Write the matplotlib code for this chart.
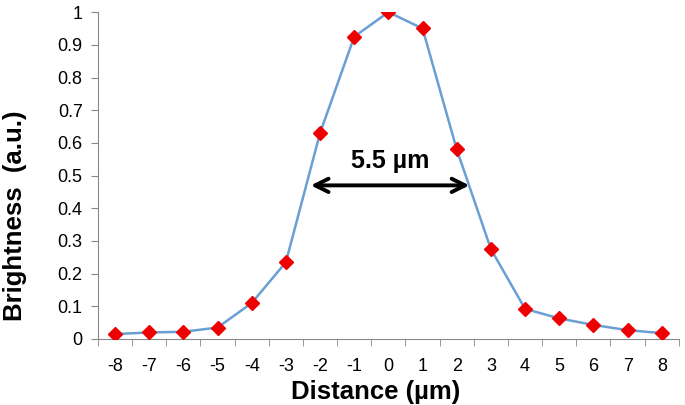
import numpy as np
from matplotlib import pyplot as plt

plt.rcParams['font.family'] = ['Liberation Sans', 'DejaVu Sans']
plt.rcParams['axes.unicode_minus'] = False

distance = [-8, -7, -6, -5, -4, -3, -2, -1, 0, 1, 2, 3, 4, 5, 6, 7, 8]
brightness = [0.015, 0.02, 0.022, 0.035, 0.11, 0.235, 0.63, 0.925, 1.0,
              0.95, 0.58, 0.275, 0.092, 0.063, 0.043, 0.027, 0.018]
y_ticks = [0, 0.1, 0.2, 0.3, 0.4, 0.5, 0.6, 0.7, 0.8, 0.9, 1]
fwhm_left, fwhm_right, fwhm_level = -2.35, 2.45, 0.47
fwhm_text = '5.5 µm'

fig = plt.figure(figsize=(6.85, 4.05), dpi=100)
ax = fig.add_axes([0.143, 0.163, 0.848, 0.807])

ax.plot(distance, brightness, color='#6a9fd4', lw=1.8, zorder=2)
ax.plot(distance, brightness, ls='none', marker='D', ms=7,
        color='#ee0000', mec='#ee0000', zorder=3)

# width arrow
ax.annotate('', xy=(fwhm_left, fwhm_level), xytext=(fwhm_right, fwhm_level),
            arrowprops=dict(arrowstyle='<->', lw=2.8, color='black',
                            mutation_scale=24))
ax.text((fwhm_left + fwhm_right) / 2, fwhm_level + 0.075, fwhm_text,
        ha='center', va='center', fontsize=18, fontweight='bold')

ax.set_xlim(-8.5, 8.5)
ax.set_ylim(0, 1)
ax.set_yticks(y_ticks)
ax.set_yticklabels([('%g' % v) for v in y_ticks])
ax.set_xticks(distance)
ax.set_xticklabels([str(d) for d in distance])
ax.set_xticks(np.arange(-8.5, 9, 1), minor=True)
ax.tick_params(axis='x', which='major', length=0, labelsize=13, pad=14)
ax.tick_params(axis='x', which='minor', length=5, color='#888888')
ax.tick_params(axis='y', length=5, color='#888888', labelsize=13, pad=6)

ax.spines['top'].set_visible(False)
ax.spines['right'].set_visible(False)
ax.spines['left'].set_color('#888888')
ax.spines['bottom'].set_color('#888888')

ax.set_xlabel('Distance (µm)', fontsize=18.5, fontweight='bold')
ax.set_ylabel('Brightness  (a.u.)', fontsize=18.5, fontweight='bold')
ax.xaxis.set_label_coords(0.478, -0.125)
ax.yaxis.set_label_coords(-0.122, 0.378)

fig.savefig('out.png', dpi=100)
